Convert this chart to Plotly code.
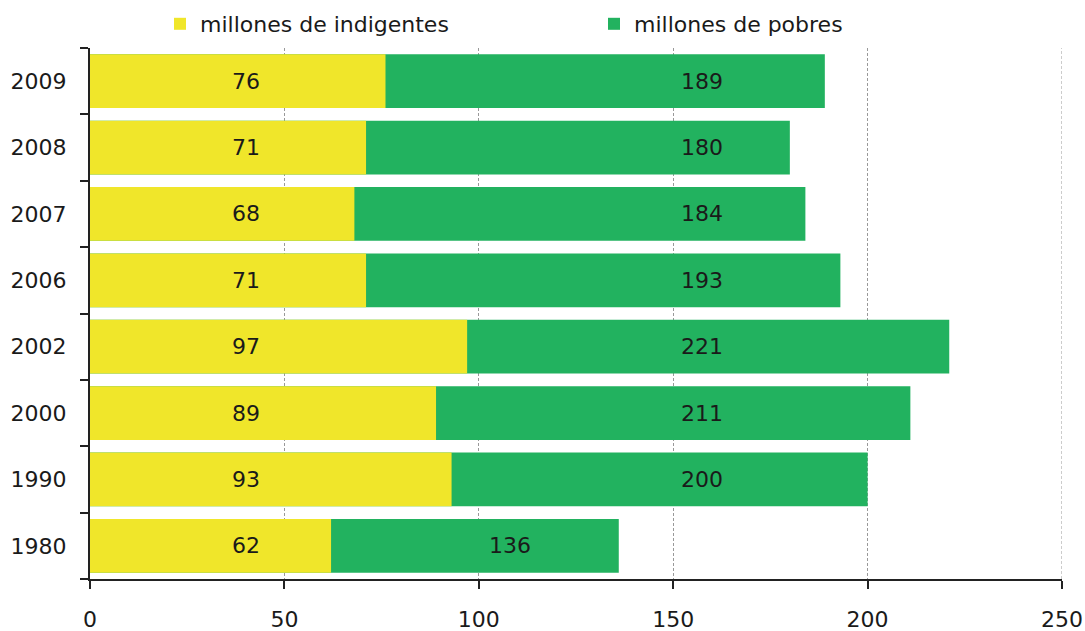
import plotly.graph_objects as go

years = ["1980", "1990", "2000", "2002", "2006", "2007", "2008", "2009"]
indigentes = [62, 93, 89, 97, 71, 68, 71, 76]
pobres = [136, 200, 211, 221, 193, 184, 180, 189]
legend_names = ["millones de indigentes", "millones de pobres"]
x_ticks = [0, 50, 100, 150, 200, 250]

YELLOW = "#F0E62A"
GREEN = "#22B25F"
TEXT = "#1a1a1a"
AXIS = "#222222"
GRID = "#999999"
FONT = "DejaVu Sans"

L, R, T, B = 90, 23, 48, 52
W, H = 1085, 631
pw = W - L - R
ph = H - T - B

fig = go.Figure()
fig.add_trace(go.Bar(
    y=years, x=pobres, orientation="h", name=legend_names[1],
    marker=dict(color=GREEN, line=dict(width=0)), hoverinfo="x+y",
))
fig.add_trace(go.Bar(
    y=years, x=indigentes, orientation="h", name=legend_names[0],
    marker=dict(color=YELLOW, line=dict(width=0)), hoverinfo="x+y",
))

for k, (i, p) in enumerate(zip(indigentes, pobres)):
    fig.add_annotation(x=40, y=k, xref="x", yref="y", text=str(i),
                       showarrow=False, font=dict(size=22, color=TEXT, family=FONT))
    gx = 157.5 if p > 150 else (i + p) / 2 + 9
    fig.add_annotation(x=gx, y=k, xref="x", yref="y", text=str(p),
                       showarrow=False, font=dict(size=22, color=TEXT, family=FONT))

# gridline at the right edge of the range (plotly omits the edge gridline)
fig.add_shape(type="line", xref="x", yref="paper", x0=x_ticks[-1], x1=x_ticks[-1], y0=0, y1=1,
              line=dict(color=GRID, width=1, dash="3px,2px"), layer="below")

legend_y = 1 + (T - 24) / ph

fig.update_layout(
    width=W, height=H,
    margin=dict(l=L, r=R, t=T, b=B, autoexpand=False),
    paper_bgcolor="white", plot_bgcolor="white",
    barmode="overlay", bargap=0.19,
    font=dict(family=FONT, size=22, color=TEXT),
    legend=dict(x=(160 - L) / pw, y=legend_y, xanchor="left", yanchor="middle",
                orientation="h", traceorder="reversed", entrywidth=389, entrywidthmode="pixels",
                font=dict(size=22, color=TEXT, family=FONT),
                bgcolor="rgba(0,0,0,0)"),
    xaxis=dict(range=[0, 250], tickvals=x_ticks, showline=True, linecolor=AXIS, linewidth=2,
               ticks="outside", ticklen=8, tickwidth=2, tickcolor=AXIS,
               showgrid=True, gridcolor=GRID, gridwidth=1, griddash="3px,2px",
               zeroline=False, ticklabelstandoff=12,
               tickfont=dict(size=22, color=TEXT, family=FONT), fixedrange=True),
    yaxis=dict(type="category", categoryorder="array", categoryarray=years,
               range=[-0.5, 7.5], showline=True, linecolor=AXIS, linewidth=2,
               ticks="outside", tickson="boundaries", ticklen=8, tickwidth=2, tickcolor=AXIS,
               showgrid=False, zeroline=False, ticklabelstandoff=17,
               tickfont=dict(size=22, color=TEXT, family=FONT), fixedrange=True),
)

fig.write_html("out.html", config={"displayModeBar": False},
               post_script="document.body.style.margin='0';document.body.style.overflow='hidden';")
